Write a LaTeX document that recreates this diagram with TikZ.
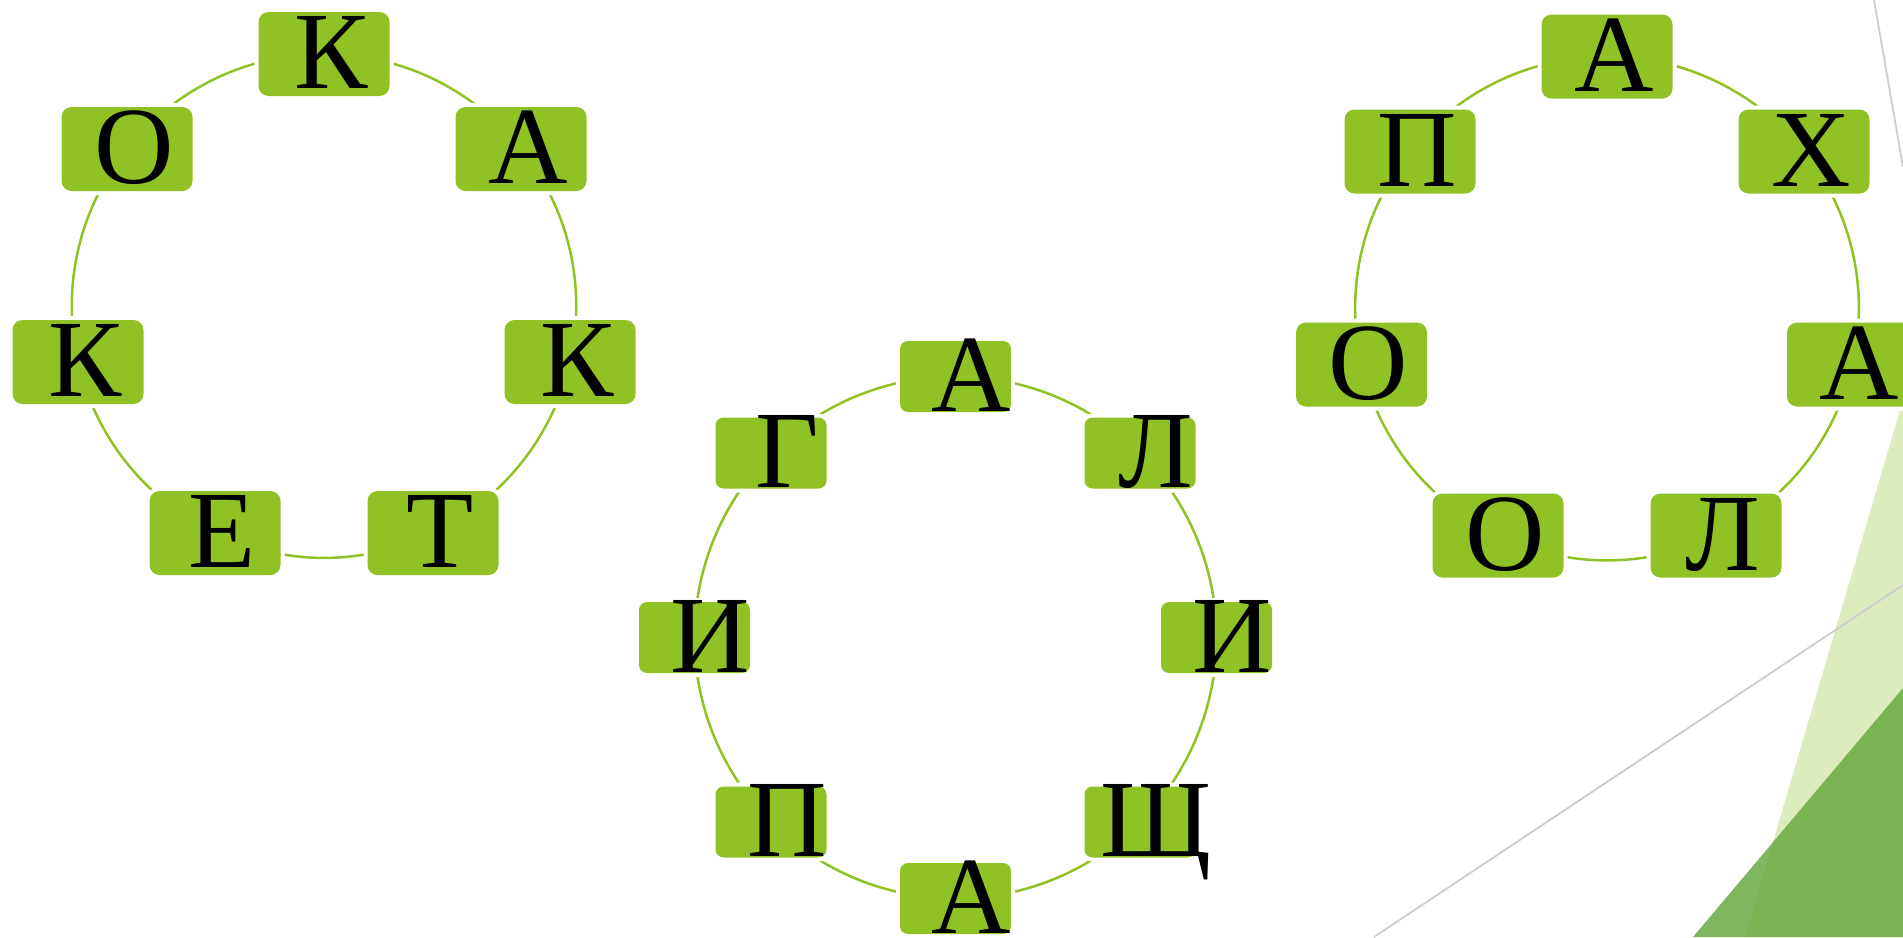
\documentclass[tikz,border=0pt]{standalone}
\usepackage{fontspec}
\setmainfont{Liberation Serif}
\usetikzlibrary{backgrounds}

\definecolor{leaf}{RGB}{145,194,37}
\definecolor{moss}{RGB}{96,165,56}
\definecolor{rule}{RGB}{205,205,205}

% letter inside a box: shifted right, caps centred, may overflow
\newcommand{\glyph}[2]{\smash{\makebox[0pt]{\hspace*{#1}\raisebox{-34.5pt}{#2}}}}

\begin{document}
\begin{tikzpicture}[x=1pt, y=-1pt,
	cell/.style={rectangle, rounded corners=10pt, fill=leaf, inner sep=0pt,
		minimum width=131pt, minimum height=84pt,
		preaction={draw=white, line width=8pt},
		font=\fontsize{110}{110}\selectfont},
	smallcell/.style={cell, rounded corners=8pt, minimum width=111pt, minimum height=71pt},
	link/.style={draw=leaf, line width=2.5pt}]

	\useasboundingbox (0, 0) rectangle (1903, 937);

	% Boxes, left ring:
	\node[cell] (l1) at (324, 54) {\glyph{14pt}{К}};
	\node[cell] (l2) at (521, 149) {\glyph{14pt}{А}};
	\node[cell] (l3) at (570, 362) {\glyph{14pt}{К}};
	\node[cell] (l4) at (433, 533) {\glyph{14pt}{Т}};
	\node[cell] (l5) at (215, 533) {\glyph{14pt}{Е}};
	\node[cell] (l6) at (78, 362) {\glyph{14pt}{К}};
	\node[cell] (l7) at (127, 149) {\glyph{14pt}{О}};

	% Boxes, middle ring:
	\node[smallcell] (m1) at (955.5, 376.5) {\glyph{32pt}{А}};
	\node[smallcell] (m2) at (1140, 453) {\glyph{32pt}{Л}};
	\node[smallcell] (m3) at (1216.5, 637.5) {\glyph{32pt}{И}};
	\node[smallcell] (m4) at (1140, 822) {\glyph{32pt}{Щ}};
	\node[smallcell] (m5) at (955.5, 898.5) {\glyph{32pt}{А}};
	\node[smallcell] (m6) at (771, 822) {\glyph{32pt}{П}};
	\node[smallcell] (m7) at (694.5, 637.5) {\glyph{32pt}{И}};
	\node[smallcell] (m8) at (771, 453) {\glyph{32pt}{Г}};

	% Boxes, right ring:
	\node[cell] (r1) at (1607, 56.5) {\glyph{14pt}{А}};
	\node[cell] (r2) at (1804, 151.5) {\glyph{14pt}{Х}};
	\node[cell] (r3) at (1852.5, 364.5) {\glyph{14pt}{А}};
	\node[cell] (r4) at (1716, 535.5) {\glyph{14pt}{Л}};
	\node[cell] (r5) at (1498, 535.5) {\glyph{14pt}{О}};
	\node[cell] (r6) at (1361.5, 364.5) {\glyph{14pt}{О}};
	\node[cell] (r7) at (1410, 151.5) {\glyph{14pt}{П}};

	\begin{scope}[on background layer]
		% Backdrop:
		\fill[white] (0, 0) rectangle (1903, 937);
		\fill[leaf, opacity=0.3] (1903, 400) -- (1745, 937) -- (1903, 937) -- cycle;
		\fill[moss, opacity=0.8] (1903, 688) -- (1693, 937) -- (1903, 937) -- cycle;
		\draw[rule, line width=1.8pt] (1874, 0) -- (1903, 167);
		\draw[rule, line width=1.8pt] (1374, 937) -- (1903, 585);

		% Arcs, left ring:
		\draw[link] (l1.center) to[bend left=25.7, looseness=0.9] (l2.center);
		\draw[link] (l2.center) to[bend left=25.7, looseness=0.9] (l3.center);
		\draw[link] (l3.center) to[bend left=25.7, looseness=0.9] (l4.center);
		\draw[link] (l4.center) to[bend left=25.7, looseness=0.9] (l5.center);
		\draw[link] (l5.center) to[bend left=25.7, looseness=0.9] (l6.center);
		\draw[link] (l6.center) to[bend left=25.7, looseness=0.9] (l7.center);
		\draw[link] (l7.center) to[bend left=25.7, looseness=0.9] (l1.center);

		% Arcs, middle ring:
		\draw[link] (m1.center) to[bend left=22.5, looseness=0.885] (m2.center);
		\draw[link] (m2.center) to[bend left=22.5, looseness=0.885] (m3.center);
		\draw[link] (m3.center) to[bend left=22.5, looseness=0.885] (m4.center);
		\draw[link] (m4.center) to[bend left=22.5, looseness=0.885] (m5.center);
		\draw[link] (m5.center) to[bend left=22.5, looseness=0.885] (m6.center);
		\draw[link] (m6.center) to[bend left=22.5, looseness=0.885] (m7.center);
		\draw[link] (m7.center) to[bend left=22.5, looseness=0.885] (m8.center);
		\draw[link] (m8.center) to[bend left=22.5, looseness=0.885] (m1.center);

		% Arcs, right ring:
		\draw[link] (r1.center) to[bend left=25.7, looseness=0.9] (r2.center);
		\draw[link] (r2.center) to[bend left=25.7, looseness=0.9] (r3.center);
		\draw[link] (r3.center) to[bend left=25.7, looseness=0.9] (r4.center);
		\draw[link] (r4.center) to[bend left=25.7, looseness=0.9] (r5.center);
		\draw[link] (r5.center) to[bend left=25.7, looseness=0.9] (r6.center);
		\draw[link] (r6.center) to[bend left=25.7, looseness=0.9] (r7.center);
		\draw[link] (r7.center) to[bend left=25.7, looseness=0.9] (r1.center);
	\end{scope}

\end{tikzpicture}
\end{document}
